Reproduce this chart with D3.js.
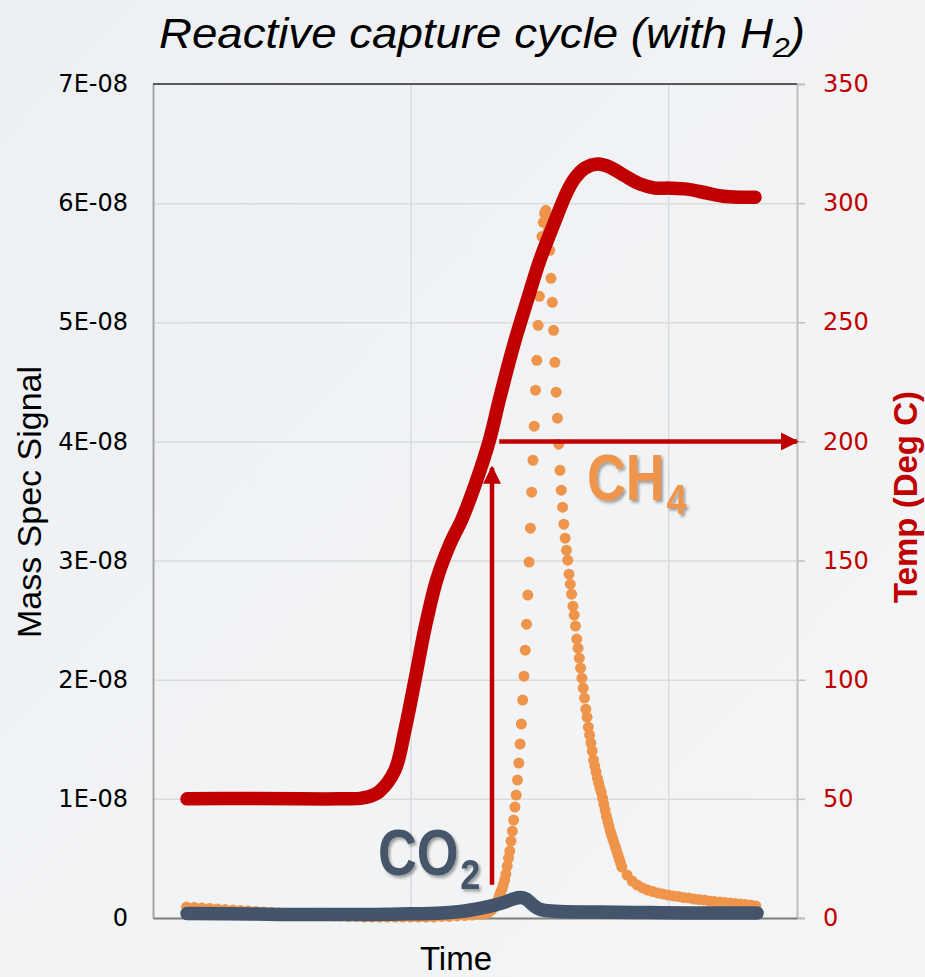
<!DOCTYPE html>
<html>
<head>
<meta charset="utf-8">
<script src="https://cdn.jsdelivr.net/npm/d3@7"></script>
<style>
  html, body { margin: 0; padding: 0; background: #f0f2f4; }
  svg { display: block; }
  .tick text { font-family: "DejaVu Sans", sans-serif; }
</style>
</head>
<body>
<script>
// sample times (arbitrary time units) and readings
var tempT = [13.2, 37.7, 57.1, 72.6, 80.4, 84.2, 88.1, 93.9, 97.8, 101.7, 105.6, 110.2, 115.3, 120.0,
  125.0, 130.4, 134.7, 139.8, 145.2, 150.2, 155.3, 160.7, 163.8, 167.7, 172.7, 177.4, 183.2, 189.1,
  194.9, 200.7, 207.3, 215.1, 221.3, 227.9, 233.7];
var tempC = [50.0, 50.2, 50.0, 50.0, 50.2, 51, 53.3, 62, 78.9, 99.9, 121.7, 142.2, 157, 167.5,
  181.7, 199.7, 218.6, 239.6, 258.9, 276.1, 290.4, 304.7, 310.5, 314.7, 316.4, 315.1, 311.4, 308.0,
  306.3, 306.3, 305.9, 304.2, 302.9, 302.5, 302.5];

// CO2 mass spec signal, in units of 1E-08
var co2T = [13.2, 37.7, 57, 76.5, 95.9, 107.5, 115.3, 121.1, 126.9, 132.8, 136.6, 139.8, 142.5,
  144.8, 147.1, 149.5, 152.2, 158, 173.5, 192.9, 212.3, 234.5];
var co2V = [0.038, 0.034, 0.029, 0.029, 0.034, 0.038, 0.046, 0.059, 0.080, 0.109, 0.134, 0.159, 0.172,
  0.159, 0.117, 0.080, 0.063, 0.055, 0.050, 0.046, 0.042, 0.042];

// CH4 mass spec signal (1E-08), three sampling stretches
var ch4EarlyT = d3.range(13, 128, 3);
var ch4EarlyV = [0.092, 0.088, 0.084, 0.080, 0.076, 0.071, 0.067, 0.063, 0.059, 0.055, 0.050, 0.046,
  0.042, 0.038, 0.034, 0.029, 0.025, 0.025, 0.021, 0.017, 0.017, 0.013, 0.013, 0.008, 0.008, 0.008,
  0.008, 0.008, 0.008, 0.008, 0.008, 0.008, 0.008, 0.013, 0.013, 0.017, 0.021, 0.025, 0.034];
var ch4PeakT = d3.range(128, 182.25, 0.5);
var ch4PeakV = [0.034, 0.036, 0.039, 0.042, 0.046, 0.053, 0.063, 0.071, 0.084, 0.096,
  0.109, 0.130, 0.155, 0.189, 0.218, 0.243, 0.277, 0.319, 0.369, 0.436,
  0.503, 0.562, 0.646, 0.730, 0.822, 0.931, 1.032, 1.158, 1.300, 1.460,
  1.628, 1.829, 2.030, 2.248, 2.466, 2.710, 2.987, 3.272, 3.574, 3.842,
  4.128, 4.430, 4.681, 4.975, 5.218, 5.503, 5.721, 5.839, 5.914, 5.940,
  5.898, 5.772, 5.604, 5.369, 5.168, 4.933, 4.664, 4.413, 4.195, 3.977,
  3.758, 3.591, 3.448, 3.305, 3.188, 3.087, 3.003, 2.886, 2.802, 2.718,
  2.617, 2.542, 2.450, 2.341, 2.265, 2.181, 2.097, 2.013, 1.930, 1.846,
  1.753, 1.686, 1.602, 1.535, 1.468, 1.401, 1.326, 1.275, 1.225, 1.174,
  1.133, 1.091, 1.057, 1.007, 0.956, 0.906, 0.856, 0.814, 0.772, 0.730,
  0.696, 0.663, 0.629, 0.596, 0.562, 0.529, 0.495, 0.461, 0.428];
var ch4TailT = d3.range(184, 235, 2);
var ch4TailV = [0.361, 0.310, 0.277, 0.252, 0.235, 0.222, 0.210, 0.201, 0.193, 0.185, 0.180, 0.172,
  0.168, 0.159, 0.155, 0.151, 0.143, 0.138, 0.134, 0.130, 0.126, 0.122, 0.117, 0.113, 0.109, 0.101];

var leftTicks = [0, 1, 2, 3, 4, 5, 6, 7];
var rightTicks = [0, 50, 100, 150, 200, 250, 300, 350];
var timeGrid = [100, 200];

// annotations: arrow up to the 200 C line, arrow along it to the temp axis
var upArrow = {t: 131.6, from: 14, to: 189};
var sideArrow = {temp: 200, from: 134.4, to: 250};
var co2Label = {t: 87.3, v: 0.36};
var ch4Label = {t: 168.5, v: 3.51};

var W = 925, H = 977;
var margin = {top: 84, right: 128, bottom: 59, left: 153},
  width = W - margin.left - margin.right,
  height = H - margin.top - margin.bottom;

var x = d3.scaleLinear().domain([0, 250]).range([0, width]),
  y = d3.scaleLinear().domain([0, 7]).range([height, 0]),
  yT = d3.scaleLinear().domain([0, 350]).range([height, 0]);

var red = '#c00000', orange = '#ee954b', slate = '#44546a';

var svg = d3.select('body').append('svg')
  .attr('width', W)
  .attr('height', H);

var defs = svg.append('defs');
var grad = defs.append('linearGradient').attr('id', 'bg')
  .attr('x1', 0).attr('y1', 0).attr('x2', 1).attr('y2', 1);
grad.append('stop').attr('offset', 0).attr('stop-color', '#edf0f3');
grad.append('stop').attr('offset', 1).attr('stop-color', '#f4f5f6');

var shadow = defs.append('filter').attr('id', 'shadow')
  .attr('x', '-20%').attr('y', '-20%').attr('width', '140%').attr('height', '140%');
shadow.append('feDropShadow')
  .attr('dx', 2.5).attr('dy', 2.5).attr('stdDeviation', 1.5)
  .attr('flood-color', '#000').attr('flood-opacity', 0.35);

defs.append('marker')
  .attr('id', 'head')
  .attr('viewBox', '0 0 18 18')
  .attr('refX', 16).attr('refY', 9)
  .attr('markerUnits', 'userSpaceOnUse')
  .attr('markerWidth', 18).attr('markerHeight', 18)
  .attr('orient', 'auto')
  .append('path')
  .attr('d', 'M0,0 L18,9 L0,18 Z')
  .attr('fill', red);

svg.append('rect').attr('width', W).attr('height', H).attr('fill', 'url(#bg)');

var title = svg.append('text')
  .attr('x', 482).attr('y', 48)
  .attr('text-anchor', 'middle')
  .attr('textLength', 646)
  .attr('lengthAdjust', 'spacingAndGlyphs')
  .style('font-family', '"Liberation Sans", Arial, sans-serif')
  .style('font-style', 'italic')
  .style('font-size', '42px')
  .attr('fill', '#000');
title.append('tspan').text('Reactive capture cycle (with H');
title.append('tspan').attr('dy', 9).style('font-size', '28px').text('2');
title.append('tspan').attr('dy', -9).text(')');

var g = svg.append('g')
  .attr('transform', 'translate(' + margin.left + ',' + margin.top + ')');

// gridlines
g.append('g')
  .attr('class', 'grid')
  .call(d3.axisLeft(y).tickValues(leftTicks).tickSize(-width).tickFormat(''))
  .call(function(s) {
    s.select('.domain').remove();
    s.selectAll('line').attr('stroke', '#dadcde').attr('stroke-width', 1.5);
  });

g.append('g')
  .attr('class', 'grid')
  .attr('transform', 'translate(0,' + height + ')')
  .call(d3.axisBottom(x).tickValues(timeGrid).tickSize(-height).tickFormat(''))
  .call(function(s) {
    s.select('.domain').remove();
    s.selectAll('line').attr('stroke', '#dadcde').attr('stroke-width', 1.5);
  });

// left axis
g.append('g')
  .call(d3.axisLeft(y).tickValues(leftTicks).tickSize(0).tickPadding(25)
    .tickFormat(function(d) { return d === 0 ? '0' : d + 'E-08'; }))
  .call(function(s) {
    s.select('.domain').attr('stroke', '#a6a6a6').attr('stroke-width', 2);
    s.selectAll('text').style('font-size', '24px').attr('fill', '#000');
  });

// right axis
g.append('g')
  .attr('transform', 'translate(' + width + ',0)')
  .call(d3.axisRight(yT).tickValues(rightTicks).tickSize(8).tickPadding(18))
  .call(function(s) {
    s.select('.domain').attr('stroke', '#bfbfbf').attr('stroke-width', 2);
    s.selectAll('line').attr('stroke', '#bfbfbf').attr('stroke-width', 1.5);
    s.selectAll('text').style('font-size', '24px').attr('fill', red);
  });

// top and bottom frame lines
g.append('line').attr('x1', 0).attr('x2', width).attr('y1', 0).attr('y2', 0)
  .attr('stroke', '#595959').attr('stroke-width', 2);
g.append('g')
  .attr('transform', 'translate(0,' + height + ')')
  .call(d3.axisBottom(x).tickValues([]).tickSizeOuter(0))
  .select('.domain').attr('stroke', '#7f7f7f').attr('stroke-width', 2);

// CH4 scatter
var ch4 = [];
ch4EarlyT.forEach(function(t, i) { ch4.push({t: t, v: ch4EarlyV[i]}); });
ch4PeakT.forEach(function(t, i) { ch4.push({t: t, v: ch4PeakV[i]}); });
ch4TailT.forEach(function(t, i) { ch4.push({t: t, v: ch4TailV[i]}); });

g.append('g').selectAll('circle')
  .data(ch4)
  .enter().append('circle')
  .attr('cx', function(d) { return x(d.t); })
  .attr('cy', function(d) { return y(d.v); })
  .attr('r', 5.5)
  .attr('fill', orange);

// CO2
var co2 = co2T.map(function(t, i) { return {t: t, v: co2V[i]}; });
g.append('path')
  .datum(co2)
  .attr('fill', 'none')
  .attr('stroke', slate)
  .attr('stroke-width', 13.5)
  .attr('stroke-linecap', 'round')
  .attr('stroke-linejoin', 'round')
  .attr('d', d3.line().curve(d3.curveMonotoneX)
    .x(function(d) { return x(d.t); })
    .y(function(d) { return y(d.v); }));

// temperature
var temp = tempT.map(function(t, i) { return {t: t, c: tempC[i]}; });
g.append('path')
  .datum(temp)
  .attr('fill', 'none')
  .attr('stroke', red)
  .attr('stroke-width', 13.5)
  .attr('stroke-linecap', 'round')
  .attr('stroke-linejoin', 'round')
  .attr('d', d3.line().curve(d3.curveCatmullRom.alpha(0.5))
    .x(function(d) { return x(d.t); })
    .y(function(d) { return yT(d.c); }));

// arrows
g.append('line')
  .attr('x1', x(upArrow.t)).attr('x2', x(upArrow.t))
  .attr('y1', yT(upArrow.from)).attr('y2', yT(upArrow.to))
  .attr('stroke', red).attr('stroke-width', 4.5)
  .attr('marker-end', 'url(#head)');
g.append('line')
  .attr('x1', x(sideArrow.from)).attr('x2', x(sideArrow.to))
  .attr('y1', yT(sideArrow.temp)).attr('y2', yT(sideArrow.temp))
  .attr('stroke', red).attr('stroke-width', 4.5)
  .attr('marker-end', 'url(#head)');

// series labels (condensed bold, like Arial Narrow)
function chemLabel(pos, main, sub, color) {
  var t = g.append('text')
    .attr('transform', 'translate(' + x(pos.t) + ',' + y(pos.v) + ') scale(0.84,1)')
    .attr('fill', color)
    .attr('filter', 'url(#shadow)')
    .style('font-family', '"Liberation Sans", Arial, sans-serif')
    .style('font-weight', 'bold')
    .style('font-size', '64px');
  t.append('tspan').text(main);
  t.append('tspan').attr('dx', 2).attr('dy', 14).style('font-size', '43px').text(sub);
}
chemLabel(co2Label, 'CO', '2', slate);
chemLabel(ch4Label, 'CH', '4', orange);

// axis titles
svg.append('text')
  .attr('transform', 'translate(41,502) rotate(-90)')
  .attr('text-anchor', 'middle')
  .style('font-family', '"Liberation Sans", Arial, sans-serif')
  .style('font-size', '34px')
  .attr('fill', '#000')
  .text('Mass Spec Signal');

svg.append('text')
  .attr('transform', 'translate(917,497) rotate(-90)')
  .attr('text-anchor', 'middle')
  .style('font-family', '"Liberation Sans", Arial, sans-serif')
  .style('font-size', '33px')
  .style('font-weight', 'bold')
  .attr('fill', red)
  .text('Temp (Deg C)');

svg.append('text')
  .attr('x', 456).attr('y', 970)
  .attr('text-anchor', 'middle')
  .style('font-family', '"Liberation Sans", Arial, sans-serif')
  .style('font-size', '33px')
  .attr('fill', '#000')
  .text('Time');
</script>
</body>
</html>
